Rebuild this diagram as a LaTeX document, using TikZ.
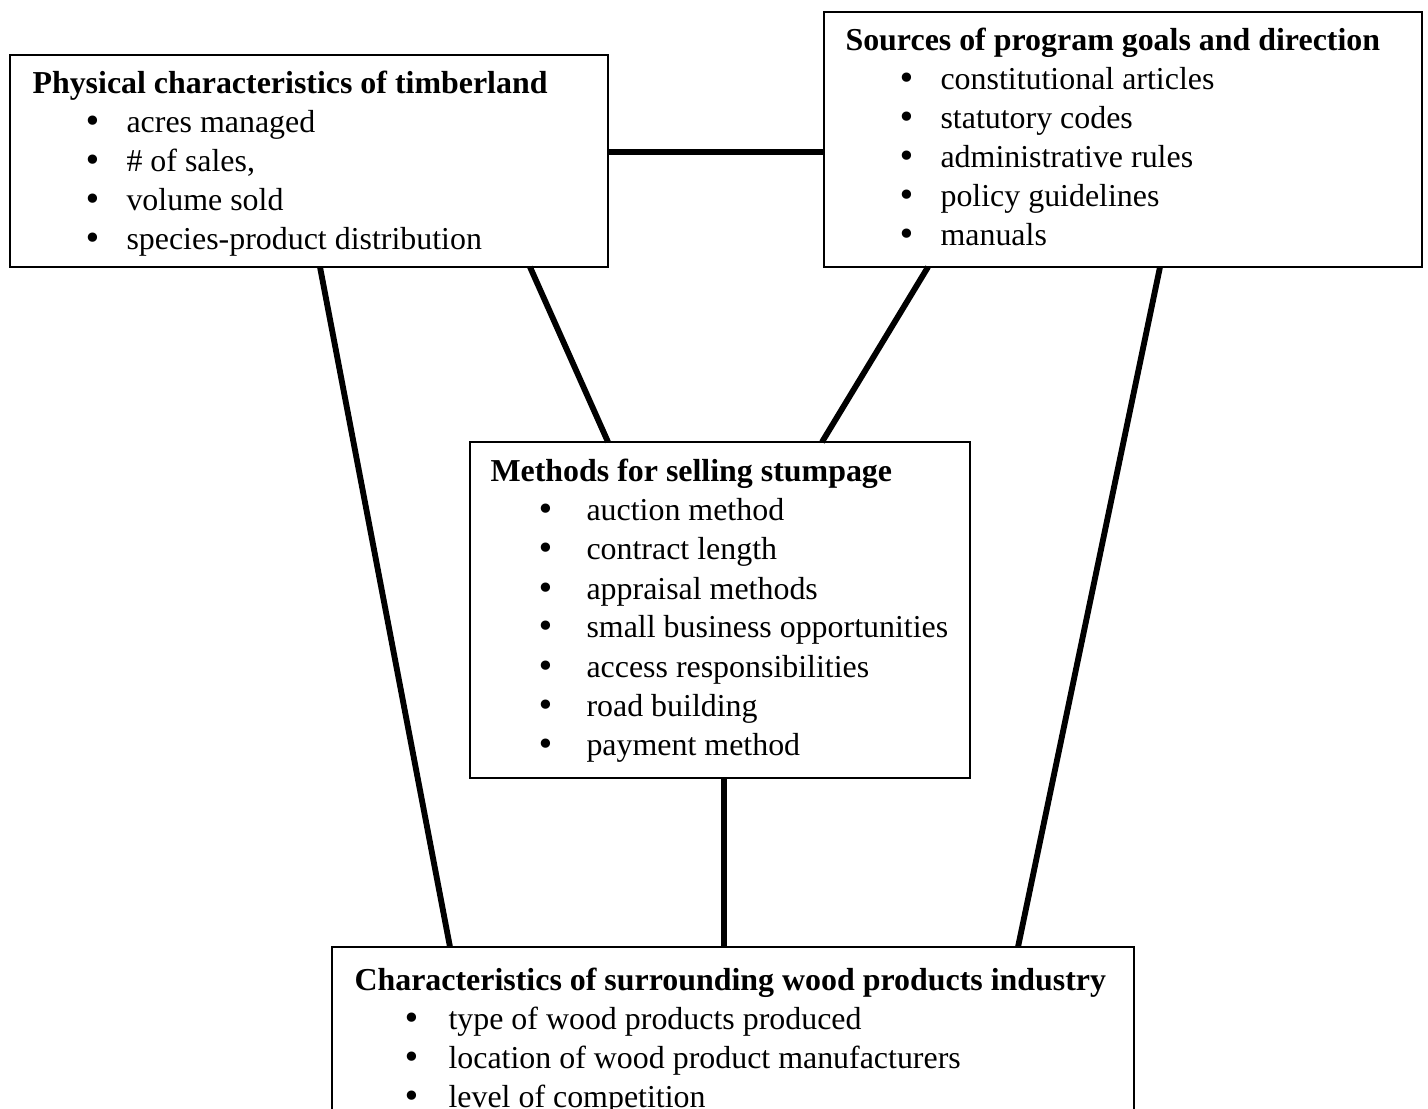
\documentclass[tikz,border=0pt]{standalone}
\usepackage{fontspec}
\setmainfont{Liberation Serif}
\newfontfamily\bulfont{DejaVu Sans}
\usetikzlibrary{calc}
\tikzset{
  conn/.style={line width=2.2pt, line cap=butt},
  frame/.style={line width=0.75pt},
  ttl/.style={anchor=base west, inner sep=0pt, font=\fontsize{12}{14}\selectfont\bfseries},
  itm/.style={anchor=base west, inner sep=0pt, font=\fontsize{12}{14}\selectfont},
  bul/.style={anchor=base, inner sep=0pt, font=\fontsize{12}{14}\bulfont},
}
\begin{document}
\begin{tikzpicture}[x=0.376pt, y=-0.376pt]
\useasboundingbox (0,0) rectangle (1428,1109);
\clip (0,0) rectangle (1428,1109);
% boxes
\coordinate (b1nw) at (10,55);   \coordinate (b1se) at (608,267);
\coordinate (b2nw) at (824,12);  \coordinate (b2se) at (1422,267);
\coordinate (b3nw) at (470,442); \coordinate (b3se) at (970,778);
\coordinate (b4nw) at (332,947); \coordinate (b4se) at (1134,1130);
% connectors
\draw[conn] ($(b1se)+(0,-115)$) coordinate (c1a) -- ($(b2nw)+(0,140)$) coordinate (c1b);
\draw[conn] ($(b1nw)+(310,212)$) coordinate (c2a) -- ($(b4nw)+(118,0)$) coordinate (c2b);
\draw[conn] ($(b1nw)+(520,212)$) coordinate (c3a) -- ($(b3nw)+(138,0)$) coordinate (c3b);
\draw[conn] ($(b2nw)+(104,255)$) coordinate (c4a) -- ($(b3nw)+(352,0)$) coordinate (c4b);
\draw[conn] ($(b2nw)+(336,255)$) coordinate (c5a) -- ($(b4nw)+(686,0)$) coordinate (c5b);
\draw[conn] ($(b3nw)+(254,336)$) coordinate (c6a) -- ($(b4nw)+(392,0)$) coordinate (c6b);
\draw[frame] (b1nw) rectangle (b1se);
\draw[frame] (b2nw) rectangle (b2se);
\draw[frame] (b3nw) rectangle (b3se);
\draw[frame] (b4nw) rectangle (b4se);
% box 1
\node[ttl] (t1) at (32,94) {Physical characteristics of timberland};
\foreach \t [count=\i] in {acres managed, \# of sales{,}, volume sold, species-product distribution}{
  \node[bul] (b1u\i) at (93,94+39*\i) {•};
  \node[itm] (b1t\i) at (126,94+39*\i) {\t};
}
% box 2
\node[ttl] (t2) at (845,51) {Sources of program goals and direction};
\foreach \t [count=\i] in {constitutional articles, statutory codes, administrative rules, policy guidelines, manuals}{
  \node[bul] (b2u\i) at (907,51+39*\i) {•};
  \node[itm] (b2t\i) at (940,51+39*\i) {\t};
}
% box 3
\node[ttl] (t3) at (490,482) {Methods for selling stumpage};
\foreach \t [count=\i] in {auction method, contract length, appraisal methods, small business opportunities, access responsibilities, road building, payment method}{
  \node[bul] (b3u\i) at (546,482+39*\i) {•};
  \node[itm] (b3t\i) at (586,482+39*\i) {\t};
}
% box 4
\node[ttl] (t4) at (354,990) {Characteristics of surrounding wood products industry};
\foreach \t [count=\i] in {type of wood products produced, location of wood product manufacturers, level of competition}{
  \node[bul] (b4u\i) at (412,990+39*\i) {•};
  \node[itm] (b4t\i) at (448,990+39*\i) {\t};
}
\end{tikzpicture}
\end{document}
